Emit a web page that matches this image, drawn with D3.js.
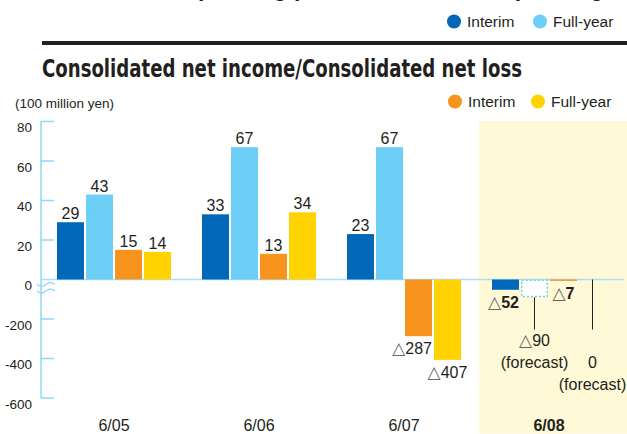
<!DOCTYPE html>
<html>
<head>
<meta charset="utf-8">
<script src="https://cdn.jsdelivr.net/npm/d3@7"></script>
<style>
  body { margin: 0; background: #fff; }
  svg { display: block; }
  text { font-family: "Liberation Sans", Arial, Helvetica, sans-serif; fill: #231f20; }
  .narrow { font-family: "Liberation Sans Narrow", "Arial Narrow", "DejaVu Sans Condensed", sans-serif; font-weight: bold; }
</style>
</head>
<body>
<svg id="chart"></svg>
<script>
// fiscal periods and the four bar series (100 million yen, negative = loss)
const periods = ["6/05", "6/06", "6/07", "6/08"];
const seriesKeys = ["interimBlue", "fullYearBlue", "interimOrange", "fullYearOrange"];
const interimBlue = [29, 33, 23, -52];
const fullYearBlue = [43, 67, 67, -90];
const interimOrange = [15, 13, -287, -7];
const fullYearOrange = [14, 34, -407, 0];
// forecast flags per series (only the 6/08 full-year values)
const fullYearBlueForecast = [false, false, false, true];
const fullYearOrangeForecast = [false, false, false, true];
const upperTicks = [0, 20, 40, 60, 80];
const lowerTicks = [-200, -400, -600];
const highlightPeriod = "6/08";

const colors = {
  interimBlue: "#0068b7",
  fullYearBlue: "#6dcff6",
  interimOrange: "#f7941d",
  fullYearOrange: "#ffd200"
};
const axisColor = "#8fd8f6";

const values = { interimBlue, fullYearBlue, interimOrange, fullYearOrange };
const forecasts = {
  interimBlue: periods.map(() => false),
  fullYearBlue: fullYearBlueForecast,
  interimOrange: periods.map(() => false),
  fullYearOrange: fullYearOrangeForecast
};

const W = 627, H = 434;
const svg = d3.select("#chart").attr("width", W).attr("height", H);

// broken axis: upper part 0..80, lower part compressed 0..-600
const y = d3.scaleLinear().domain([-600, 0, 80]).range([398, 279.5, 121.5]);
const x0 = d3.scaleBand().domain(periods).range([41, 621]);
const x1 = d3.scaleBand().domain(seriesKeys).range([16, 130]).paddingInner(0.07);

// highlighted period background
svg.append("rect")
  .attr("x", x0(highlightPeriod) + 3)
  .attr("y", y(80) - 0.5)
  .attr("width", W - x0(highlightPeriod) - 3)
  .attr("height", H - y(80))
  .attr("fill", "#fff9d7");

// cut-off heading of the previous chart
svg.append("text")
  .attr("class", "narrow")
  .attr("x", 42).attr("y", -4.5)
  .attr("textLength", 610).attr("lengthAdjust", "spacingAndGlyphs")
  .style("font-size", "25px")
  .text("Consolidated operating profit/Consolidated operating loss");

// legends
function legend(items, cy) {
  const g = svg.append("g");
  items.forEach(it => {
    g.append("circle").attr("cx", it.cx).attr("cy", cy).attr("r", 7).attr("fill", it.color);
    g.append("text").attr("x", it.cx + 13).attr("y", cy + 5.5)
      .style("font-size", "15.5px").text(it.label);
  });
}
legend([
  { cx: 454, color: colors.interimBlue, label: "Interim" },
  { cx: 540, color: colors.fullYearBlue, label: "Full-year" }
], 21.5);

svg.append("rect").attr("x", 42).attr("y", 41).attr("width", W - 42).attr("height", 4).attr("fill", "#231f20");

svg.append("text")
  .attr("class", "narrow")
  .attr("x", 42).attr("y", 77)
  .attr("textLength", 480).attr("lengthAdjust", "spacingAndGlyphs")
  .style("font-size", "25px")
  .text("Consolidated net income/Consolidated net loss");

svg.append("text").attr("x", 15).attr("y", 108).style("font-size", "13.5px").text("(100 million yen)");

legend([
  { cx: 455, color: colors.interimOrange, label: "Interim" },
  { cx: 538, color: colors.fullYearOrange, label: "Full-year" }
], 101.5);

// y axis
const axisX = 41;
svg.append("line")
  .attr("x1", axisX).attr("x2", axisX)
  .attr("y1", y(80)).attr("y2", y(-600))
  .attr("stroke", axisColor).attr("stroke-width", 1.5);

const allTicks = upperTicks.concat(lowerTicks);
svg.selectAll(".tick").data(allTicks.filter(t => t !== 0)).enter()
  .append("line")
  .attr("x1", axisX).attr("x2", axisX + 13)
  .attr("y1", d => y(d)).attr("y2", d => y(d))
  .attr("stroke", axisColor).attr("stroke-width", 1.5);

svg.selectAll(".tickLabel").data(allTicks).enter()
  .append("text")
  .attr("x", 32).attr("y", d => y(d) + 10.5)
  .attr("text-anchor", "end")
  .style("font-size", "13.5px")
  .text(d => d);

// break mark (two waves) on the axis
const wave = d3.line().curve(d3.curveBasis);
[0, 6.5].forEach(off => {
  const pts = d3.range(0, 19, 1).map(i => [axisX - 4 + i, y(0) + 5 + off + 2 * Math.sin(i / 18 * 2 * Math.PI)]);
  svg.append("path").attr("d", wave(pts)).attr("fill", "none").attr("stroke", axisColor).attr("stroke-width", 1.3);
});

// baseline
svg.append("line")
  .attr("x1", axisX).attr("x2", 624)
  .attr("y1", y(0)).attr("y2", y(0))
  .attr("stroke", "#a8e0f6").attr("stroke-width", 1.5);

// bars
const bars = [];
periods.forEach((p, i) => {
  seriesKeys.forEach((k, j) => {
    bars.push({ period: p, key: k, idx: j, value: values[k][i], forecast: forecasts[k][i], i });
  });
});

const barG = svg.append("g");
bars.forEach(d => {
  const bx = x0(d.period) + x1(d.key);
  const bw = x1.bandwidth();
  const top = Math.min(y(d.value), y(0));
  const h = Math.abs(y(d.value) - y(0));
  if (d.forecast) {
    if (d.value !== 0) {
      barG.append("rect")
        .attr("x", bx + 0.75).attr("y", top + 0.75)
        .attr("width", bw - 1.5).attr("height", h - 1.5)
        .attr("fill", "#fff").attr("stroke", colors[d.key])
        .attr("stroke-width", 1.5).attr("stroke-dasharray", "2,2");
    }
  } else {
    barG.append("rect")
      .attr("x", bx).attr("y", top)
      .attr("width", bw).attr("height", Math.max(h, 1))
      .attr("fill", colors[d.key]);
  }
});

// value labels
const labelG = svg.append("g").style("font-size", "16px");
function triLabel(sel, v) {
  sel.append("tspan").style("font-family", "'DejaVu Sans', sans-serif").style("font-weight", "normal")
    .style("fill", "#666").style("font-size", "17px").text("\u25B3");
  sel.append("tspan").text(Math.abs(v));
}
bars.forEach(d => {
  const bx = x0(d.period) + x1(d.key);
  const bw = x1.bandwidth();
  const cx = bx + bw / 2;
  if (d.forecast) {
    const lineEnd = y(0) + 50;
    const stack = bars.filter(b => b.period === d.period && b.forecast && b.idx < d.idx).length;
    labelG.append("line")
      .attr("x1", cx).attr("x2", cx)
      .attr("y1", y(d.value)).attr("y2", lineEnd)
      .attr("stroke", "#231f20").attr("stroke-width", 1);
    const first = lineEnd + 16 + stack * 22;
    const t = labelG.append("text").attr("x", cx).attr("y", first).attr("text-anchor", "middle");
    if (d.value < 0) triLabel(t, d.value); else t.text(d.value);
    labelG.append("text").attr("x", cx).attr("y", first + 22).attr("text-anchor", "middle").text("(forecast)");
  } else if (d.value >= 0) {
    labelG.append("text")
      .attr("x", cx).attr("y", y(d.value) - 3)
      .attr("text-anchor", "middle")
      .text(d.value);
  } else {
    // shift the label left if the next bar in the group reaches lower
    const next = bars.find(b => b.period === d.period && b.idx === d.idx + 1);
    const deeper = next && next.value < d.value;
    const t = labelG.append("text")
      .attr("x", deeper ? bx + bw : cx)
      .attr("y", y(d.value) + 18)
      .attr("text-anchor", deeper ? "end" : "middle")
      .style("font-weight", d.period === highlightPeriod ? "bold" : "normal");
    triLabel(t, d.value);
  }
});

// category labels
svg.selectAll(".cat").data(periods).enter()
  .append("text")
  .attr("x", d => x0(d) + 73)
  .attr("y", 431)
  .attr("text-anchor", "middle")
  .style("font-size", "16px")
  .style("font-weight", d => d === highlightPeriod ? "bold" : "normal")
  .text(d => d);
</script>
</body>
</html>
